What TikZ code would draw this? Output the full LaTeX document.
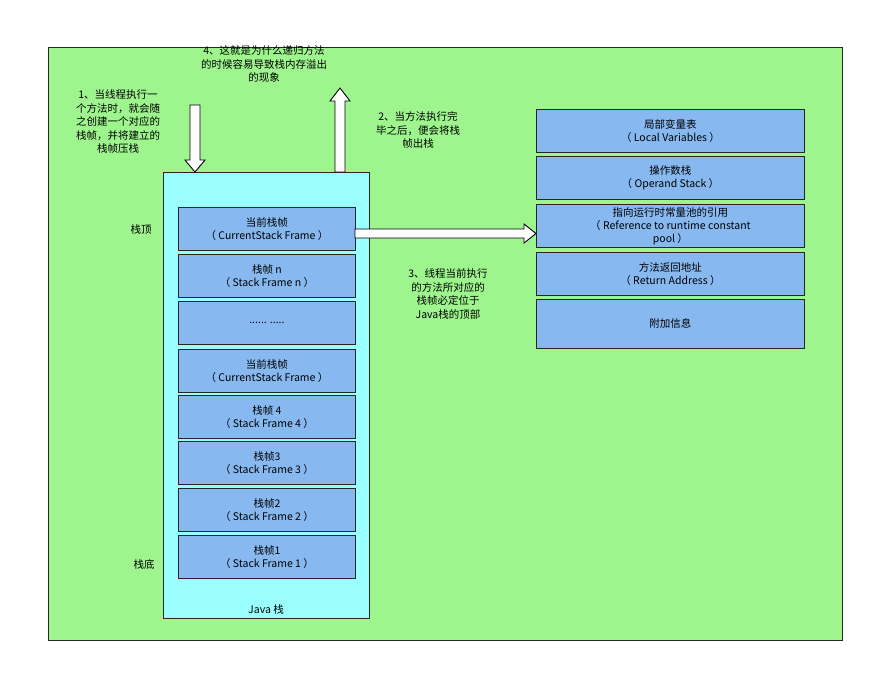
\documentclass[tikz,border=0pt]{standalone}
\usepackage{fontspec}
\setmainfont{Noto Sans CJK SC}
\definecolor{bggreen}{RGB}{158,245,142}
\definecolor{stackcyan}{RGB}{153,255,255}
\definecolor{frameblue}{RGB}{135,185,240}
\begin{document}
\begin{tikzpicture}[x=1pt,y=-1pt,
  frame/.style={draw=black!85,fill=frameblue,line width=0.9pt,minimum width=177pt,minimum height=43pt,anchor=north west,inner sep=0pt,align=center,font=\fontsize{10.5}{13}\selectfont},
  info/.style={frame,minimum width=268pt},
  lbl/.style={font=\fontsize{10.5}{13.5}\selectfont,align=center},
  barrow/.style={draw=black,fill=white,line width=0.9pt}]
\useasboundingbox (0,0) rectangle (875,673);
\fill[white] (0,0) rectangle (875,673);
\node[draw=black!85,fill=bggreen,line width=0.9pt,minimum width=794pt,minimum height=593pt,anchor=north west,inner sep=0pt] (bg) at (48,47) {};
\node[draw=black!85,fill=stackcyan,line width=0.9pt,minimum width=206pt,minimum height=446pt,anchor=north west,inner sep=0pt] (stack) at (163,172) {};
\node[lbl,anchor=south] (jl) at (266,618) {Java 栈};
\node[frame] (f1) at (178,207) {当前栈帧\\（ CurrentStack Frame ）};
\node[frame] (f2) at (178,254) {栈帧 n\\（ Stack Frame n ）};
\node[frame] (f3) at (178,301) {...... .....};
\node[frame] (f4) at (178,349) {当前栈帧\\（ CurrentStack Frame ）};
\node[frame] (f5) at (178,395) {栈帧 4\\（ Stack Frame 4 ）};
\node[frame] (f6) at (178,441) {栈帧3\\（ Stack Frame 3 ）};
\node[frame] (f7) at (178,488) {栈帧2\\（ Stack Frame 2 ）};
\node[frame] (f8) at (178,535) {栈帧1\\（ Stack Frame 1 ）};
\node[lbl] (top) at (141,230) {栈顶};
\node[lbl] (bot) at (144,565) {栈底};
\node[info] (r1) at (536,109) {局部变量表\\（ Local Variables ）};
\node[info] (r2) at (536,156) {操作数栈\\（ Operand Stack ）};
\node[info] (r3) at (536,204) {指向运行时常量池的引用\\（ Reference to runtime constant\\pool ）};
\node[info] (r4) at (536,252) {方法返回地址\\（ Return Address ）};
\node[info,minimum height=49pt] (r5) at (536,299) {附加信息};
% arrows
\draw[barrow] (190,105) -- (200,105) -- (200,160) -- (205,160) -- (195,172) -- (185,160) -- (190,160) -- cycle;
\draw[barrow] (335,172) -- (345,172) -- (345,101) -- (350,101) -- (340,88) -- (330,101) -- (335,101) -- cycle;
\draw[barrow] (355,229) -- (524,229) -- (524,224) -- (536,233.5) -- (524,243) -- (524,238) -- (355,238) -- cycle;
\node[lbl] (t1) at (118,122) {1、当线程执行一\\个方法时，就会随\\之创建一个对应的\\栈帧，并将建立的\\栈帧压栈};
\node[lbl] (t4) at (264,64) {4、这就是为什么递归方法\\的时候容易导致栈内存溢出\\的现象};
\node[lbl] (t2) at (418,130) {2、当方法执行完\\毕之后，便会将栈\\帧出栈};
\node[lbl] (t3) at (448,294) {3、线程当前执行\\的方法所对应的\\栈帧必定位于\\Java栈的顶部};
\end{tikzpicture}
\end{document}
